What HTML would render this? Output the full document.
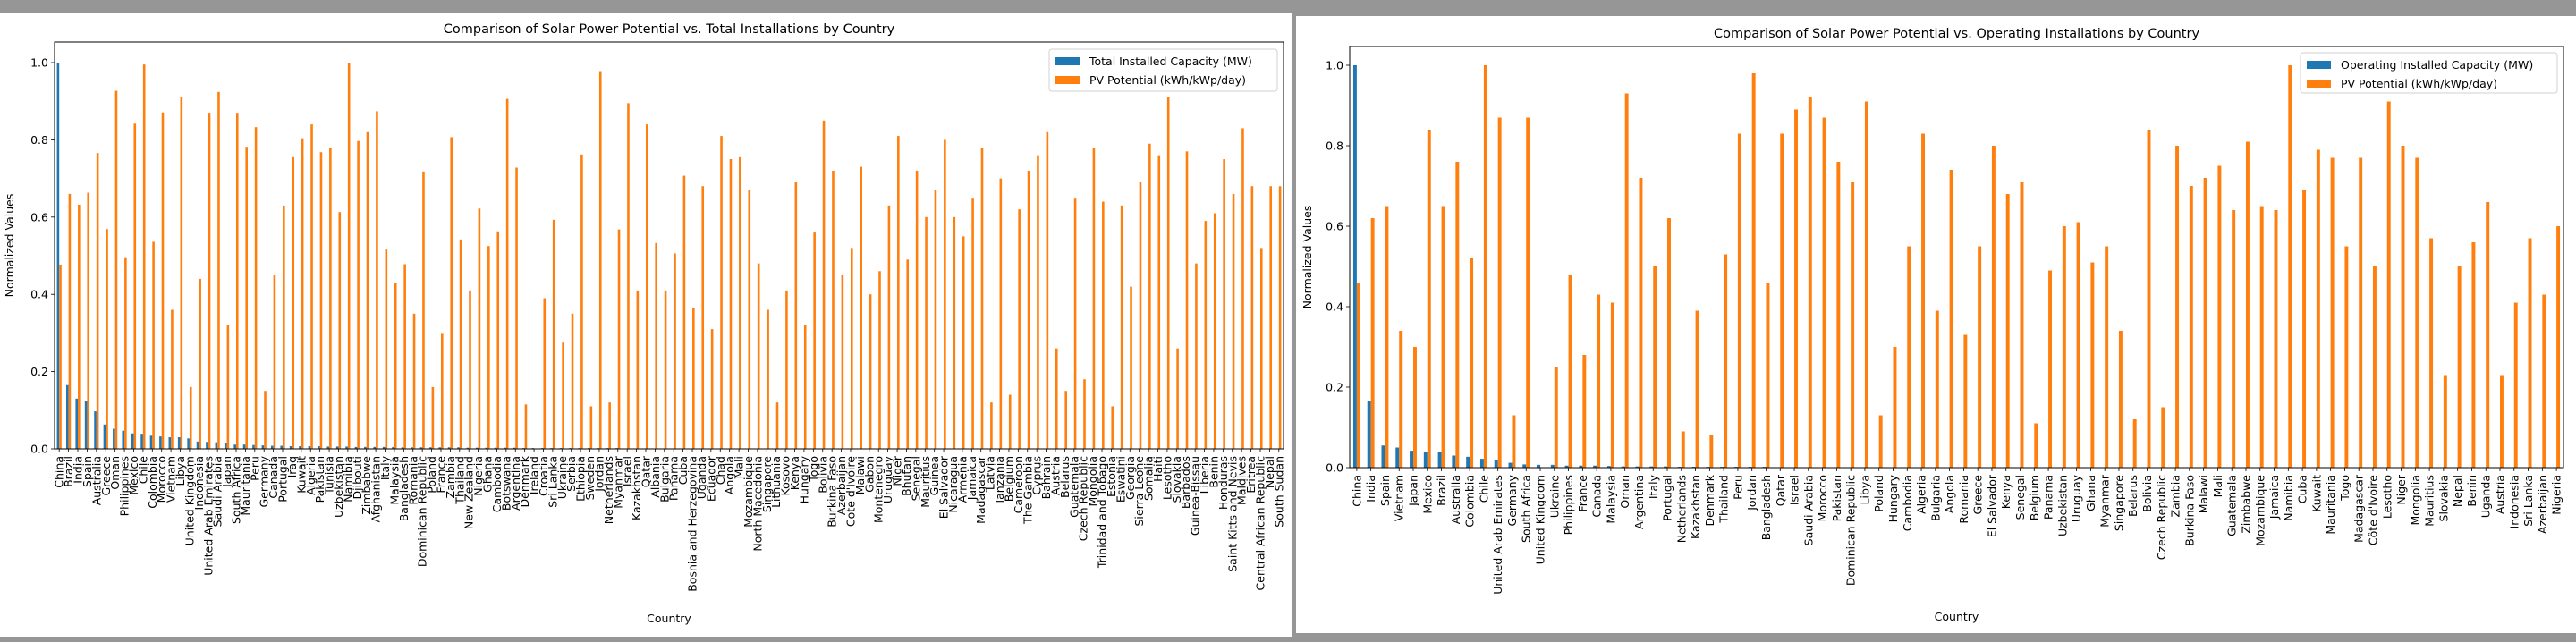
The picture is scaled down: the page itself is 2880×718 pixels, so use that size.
<!DOCTYPE html>
<html><head><meta charset="utf-8">
<style>
html,body{margin:0;padding:0;background:#969696;}
svg{display:block;font-family:"DejaVu Sans","Liberation Sans",sans-serif;}
</style></head>
<body>
<svg id="root" width="2880" height="718" xmlns="http://www.w3.org/2000/svg">
<rect x="0" y="0" width="2880" height="718" fill="#969696"/>
<rect x="0" y="15" width="1445" height="697" fill="#ffffff"/>
<rect x="1449" y="18" width="1431" height="690" fill="#ffffff"/>
<g id="left"></g>
<g id="right"></g>
</svg>
<script>
const leftCountries=["China","Brazil","India","Spain","Australia","Greece","Oman","Philippines","Mexico","Chile","Colombia","Morocco","Vietnam","Libya","United Kingdom","Indonesia","United Arab Emirates","Saudi Arabia","Japan","South Africa","Mauritania","Peru","Germany","Canada","Portugal","Iraq","Kuwait","Algeria","Pakistan","Tunisia","Uzbekistan","Namibia","Djibouti","Zimbabwe","Afghanistan","Italy","Malaysia","Bangladesh","Romania","Dominican Republic","Poland","France","Zambia","Thailand","New Zealand","Nigeria","Ghana","Cambodia","Botswana","Argentina","Denmark","Ireland","Croatia","Sri Lanka","Ukraine","Serbia","Ethiopia","Sweden","Jordan","Netherlands","Myanmar","Israel","Kazakhstan","Qatar","Albania","Bulgaria","Panama","Cuba","Bosnia and Herzegovina","Uganda","Ecuador","Chad","Angola","Mali","Mozambique","North Macedonia","Singapore","Lithuania","Kosovo","Kenya","Hungary","Togo","Bolivia","Burkina Faso","Azerbaijan","Cote d'Ivoire","Malawi","Gabon","Montenegro","Uruguay","Niger","Bhutan","Senegal","Mauritius","Guinea","El Salvador","Nicaragua","Armenia","Jamaica","Madagascar","Latvia","Tanzania","Belgium","Cameroon","The Gambia","Cyprus","Bahrain","Austria","Belarus","Guatemala","Czech Republic","Mongolia","Trinidad and Tobago","Estonia","Eswatini","Georgia","Sierra Leone","Somalia","Haiti","Lesotho","Slovakia","Barbados","Guinea-Bissau","Liberia","Benin","Honduras","Saint Kitts and Nevis","Maldives","Eritrea","Central African Republic","Nepal","South Sudan"];
const leftCapacity=[1.0,0.165,0.13,0.125,0.097,0.063,0.052,0.047,0.04,0.039,0.034,0.032,0.03,0.03,0.027,0.019,0.018,0.017,0.016,0.011,0.011,0.01,0.009,0.008,0.008,0.007,0.007,0.007,0.007,0.006,0.006,0.006,0.005,0.005,0.005,0.005,0.005,0.004,0.004,0.004,0.004,0.004,0.004,0.004,0.003,0.003,0.003,0.003,0.003,0.003,0.002,0.002,0.002,0.002,0.002,0.002,0.002,0.002,0.002,0.002,0.002,0.001,0.001,0.001,0.001,0.001,0.001,0.001,0.001,0.001,0.001,0.001,0.001,0.001,0.001,0.001,0.001,0.001,0.001,0.001,0.001,0.001,0.001,0.001,0.001,0.001,0.001,0.001,0.001,0.001,0.001,0.001,0.001,0.001,0.001,0.001,0.001,0.001,0.001,0.001,0.001,0.001,0.001,0.001,0.001,0.001,0.001,0.001,0.001,0.001,0.001,0.001,0.001,0.001,0.001,0.001,0.001,0.001,0.001,0.001,0.001,0.001,0.001,0.001,0.001,0.001,0.001,0.001,0.001,0.001,0.001,0.001];
const leftPV=[0.477,0.66,0.632,0.663,0.766,0.569,0.927,0.496,0.842,0.995,0.536,0.871,0.36,0.912,0.16,0.44,0.87,0.924,0.32,0.87,0.782,0.833,0.15,0.45,0.63,0.755,0.804,0.84,0.768,0.778,0.613,1.0,0.797,0.82,0.874,0.516,0.43,0.478,0.35,0.718,0.16,0.30,0.807,0.542,0.41,0.622,0.525,0.563,0.906,0.728,0.115,0.0,0.39,0.593,0.275,0.35,0.762,0.11,0.978,0.12,0.568,0.895,0.41,0.84,0.533,0.41,0.506,0.707,0.365,0.68,0.31,0.81,0.75,0.755,0.67,0.48,0.36,0.12,0.41,0.69,0.32,0.56,0.85,0.72,0.45,0.52,0.73,0.40,0.46,0.63,0.81,0.49,0.72,0.60,0.67,0.80,0.60,0.55,0.65,0.78,0.12,0.70,0.14,0.62,0.72,0.76,0.82,0.26,0.15,0.65,0.18,0.78,0.64,0.11,0.63,0.42,0.69,0.79,0.76,0.91,0.26,0.77,0.48,0.59,0.61,0.75,0.66,0.83,0.68,0.52,0.68,0.68];
const rightCountries=["China","India","Spain","Vietnam","Japan","Mexico","Brazil","Australia","Colombia","Chile","United Arab Emirates","Germany","South Africa","United Kingdom","Ukraine","Philippines","France","Canada","Malaysia","Oman","Argentina","Italy","Portugal","Netherlands","Kazakhstan","Denmark","Thailand","Peru","Jordan","Bangladesh","Qatar","Israel","Saudi Arabia","Morocco","Pakistan","Dominican Republic","Libya","Poland","Hungary","Cambodia","Algeria","Bulgaria","Angola","Romania","Greece","El Salvador","Kenya","Senegal","Belgium","Panama","Uzbekistan","Uruguay","Ghana","Myanmar","Singapore","Belarus","Bolivia","Czech Republic","Zambia","Burkina Faso","Malawi","Mali","Guatemala","Zimbabwe","Mozambique","Jamaica","Namibia","Cuba","Kuwait","Mauritania","Togo","Madagascar","Côte d'Ivoire","Lesotho","Niger","Mongolia","Mauritius","Slovakia","Nepal","Benin","Uganda","Austria","Indonesia","Sri Lanka","Azerbaijan","Nigeria"];
const rightCapacity=[1.0,0.165,0.055,0.05,0.042,0.04,0.038,0.03,0.027,0.022,0.018,0.012,0.008,0.007,0.007,0.005,0.005,0.005,0.004,0.003,0.003,0.003,0.003,0.002,0.002,0.002,0.002,0.002,0.002,0.002,0.001,0.001,0.001,0.001,0.001,0.001,0.001,0.001,0.001,0.001,0.001,0.001,0.001,0.001,0.001,0.001,0.001,0.001,0.001,0.001,0.001,0.001,0.001,0.001,0.001,0.001,0.001,0.001,0.001,0.001,0.001,0.001,0.001,0.001,0.001,0.001,0.001,0.001,0.001,0.001,0.001,0.001,0.001,0.001,0.001,0.001,0.001,0.001,0.001,0.001,0.001,0.001,0.001,0.001,0.001,0.001];
const rightPV=[0.46,0.62,0.65,0.34,0.30,0.84,0.65,0.76,0.52,1.0,0.87,0.13,0.87,0.0,0.25,0.48,0.28,0.43,0.41,0.93,0.72,0.50,0.62,0.09,0.39,0.08,0.53,0.83,0.98,0.46,0.83,0.89,0.92,0.87,0.76,0.71,0.91,0.13,0.30,0.55,0.83,0.39,0.74,0.33,0.55,0.80,0.68,0.71,0.11,0.49,0.60,0.61,0.51,0.55,0.34,0.12,0.84,0.15,0.80,0.70,0.72,0.75,0.64,0.81,0.65,0.64,1.0,0.69,0.79,0.77,0.55,0.77,0.50,0.91,0.80,0.77,0.57,0.23,0.50,0.56,0.66,0.23,0.41,0.57,0.43,0.60];
const yTicks=[0.0,0.2,0.4,0.6,0.8,1.0];

const NS="http://www.w3.org/2000/svg";
function mk(tag,attrs,parent){const e=document.createElementNS(NS,tag);for(const k in attrs)e.setAttribute(k,attrs[k]);parent.appendChild(e);return e;}

function drawChart(g,cfg){
  const n=cfg.cats.length;
  const step=(cfg.x1-cfg.x0)/n;
  const xC=i=>cfg.x0+step*(i+0.5);
  const yS=v=>cfg.zero-(cfg.zero-cfg.one)*v;
  const bw=step*0.25;
  // title
  const t=mk('text',{x:(cfg.x0+cfg.x1)/2,y:cfg.top-10,'text-anchor':'middle','font-size':'14.5','fill':'#000'},g);
  t.textContent=cfg.title;
  
  
  // bars
  for(let i=0;i<n;i++){
    const v1=cfg.s1[i],v2=cfg.s2[i];
    const b1=mk('rect',{x:xC(i)-bw,y:yS(v1),width:bw,height:Math.max(0,yS(0)-yS(v1)),fill:'#1f77b4'},g);
    
    
    const b2=mk('rect',{x:xC(i),y:yS(v2),width:bw,height:Math.max(0,yS(0)-yS(v2)),fill:'#ff7f0e'},g);
    
    
    mk('line',{x1:xC(i),x2:xC(i),y1:cfg.zero,y2:cfg.zero+4,stroke:'#000','stroke-width':'0.8'},g);
    const lb=mk('text',{transform:`translate(${xC(i)+4.5},${cfg.zero+8}) rotate(-90)`,'text-anchor':'end','font-size':'12.5','fill':'#000'},g);
    lb.textContent=cfg.cats[i];
    
    
  }
  // axes frame
  const fr=mk('rect',{x:cfg.x0,y:cfg.top,width:cfg.x1-cfg.x0,height:cfg.zero-cfg.top,fill:'none',stroke:'#000','stroke-width':'1'},g);
  
  
  // y ticks
  yTicks.forEach(v=>{
    mk('line',{x1:cfg.x0-4,x2:cfg.x0,y1:yS(v),y2:yS(v),stroke:'#000','stroke-width':'0.8'},g);
    const tl=mk('text',{x:cfg.x0-7,y:yS(v)+4.5,'text-anchor':'end','font-size':'12.5','fill':'#000'},g);
    tl.textContent=v.toFixed(1);
    
    
  });
  const yl=mk('text',{transform:`translate(${cfg.ylabX},${(cfg.top+cfg.zero)/2}) rotate(-90)`,'text-anchor':'middle','font-size':'12.5','fill':'#000'},g);
  yl.textContent='Normalized Values';
  
  
  const xl=mk('text',{x:(cfg.x0+cfg.x1)/2,y:cfg.xlabY,'text-anchor':'middle','font-size':'12.5','fill':'#000'},g);
  xl.textContent='Country';
  
  
  // legend
  const L=cfg.leg;
  const lg=mk('g',{},g);
  
  
  mk('rect',{x:L.x,y:L.y,width:L.w,height:L.h,rx:3,fill:'#fff','fill-opacity':'0.85',stroke:'#d0d0d0'},lg);
  mk('rect',{x:L.x+7,y:L.y+9,width:27,height:9,fill:'#1f77b4'},lg);
  mk('rect',{x:L.x+7,y:L.y+30,width:27,height:9,fill:'#ff7f0e'},lg);
  const e1=mk('text',{x:L.x+45,y:L.y+18,'font-size':'12.5'},lg);e1.textContent=cfg.s1name;
  
  
  const e2=mk('text',{x:L.x+45,y:L.y+39,'font-size':'12.5'},lg);e2.textContent='PV Potential (kWh/kWp/day)';
  
  
}
drawChart(document.getElementById('left'),{cats:leftCountries,s1:leftCapacity,s2:leftPV,x0:61,x1:1435,top:47,zero:502,one:70,
  title:'Comparison of Solar Power Potential vs. Total Installations by Country',ylabX:15,xlabY:696,
  s1name:'Total Installed Capacity (MW)',leg:{x:1173,y:55,w:255,h:47}});
drawChart(document.getElementById('right'),{cats:rightCountries,s1:rightCapacity,s2:rightPV,x0:1509,x1:2866,top:52,zero:523,one:73,
  title:'Comparison of Solar Power Potential vs. Operating Installations by Country',ylabX:1466,xlabY:694,
  s1name:'Operating Installed Capacity (MW)',leg:{x:2572,y:59,w:287,h:45}});
</script>
</body></html>
